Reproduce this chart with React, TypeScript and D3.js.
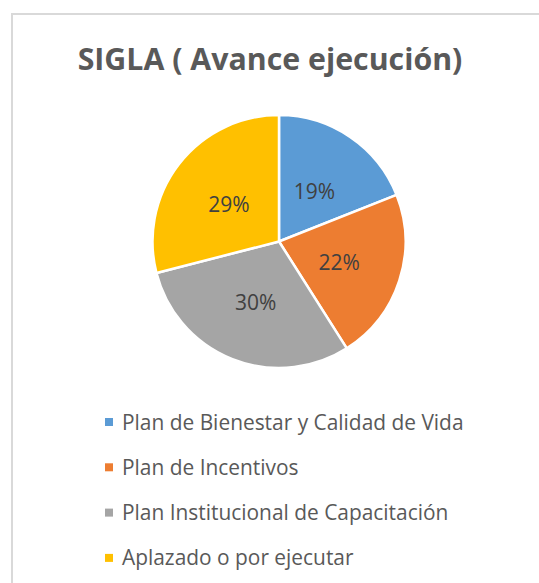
import React from "react";
import * as d3 from "d3";

const categories = [
  "Plan de Bienestar y Calidad de Vida",
  "Plan de Incentivos",
  "Plan Institucional de Capacitación",
  "Aplazado o por ejecutar",
];
const values = [19, 22, 30, 29];
const colors = ["#5b9bd5", "#ed7d31", "#a5a5a5", "#ffc000"];
const title = "SIGLA ( Avance ejecución)";

const W = 539;
const H = 583;

export default function App() {
  const cx = 279;
  const cy = 241.5;
  const r = 126.5;
  const pie = d3.pie<number>().sort(null).value((d) => d)(values);
  const arc = d3.arc<d3.PieArcDatum<number>>().innerRadius(0).outerRadius(r);
  const labelArc = d3
    .arc<d3.PieArcDatum<number>>()
    .innerRadius(r * 0.5)
    .outerRadius(r * 0.5);
  const total = d3.sum(values);
  const font = "'Open Sans', 'Segoe UI', sans-serif";
  const legendY = d3.scaleLinear().domain([0, 1]).range([422, 467.3]);

  return (
    <svg
      width={W}
      height={H}
      style={{ position: "absolute", left: 0, top: 0, display: "block" }}
    >
      <rect x={0} y={0} width={W} height={H} fill="#fff" />
      <path
        d={`M12,${H} L12,14 L${W},14`}
        fill="none"
        stroke="#d9d9d9"
        strokeWidth={2}
      />
      <text
        x={270}
        y={70}
        textAnchor="middle"
        fontFamily={font}
        fontWeight={700}
        fontSize={30.3}
        fill="#595959"
      >
        {title}
      </text>
      <g transform={`translate(${cx},${cy})`}>
        {pie.map((p, i) => (
          <path
            key={i}
            d={arc(p) || ""}
            fill={colors[i]}
            stroke="#fff"
            strokeWidth={2.5}
            strokeLinejoin="round"
          />
        ))}
        {pie.map((p, i) => {
          const [x, y] = labelArc.centroid(p);
          return (
            <text
              key={i}
              x={x}
              y={y + 2}
              dy="0.35em"
              textAnchor="middle"
              fontFamily={font}
              fontSize={21}
              fill="#404040"
            >
              {`${Math.round((values[i] / total) * 100)}%`}
            </text>
          );
        })}
      </g>
      {categories.map((c, i) => (
        <g key={c} transform={`translate(0,${legendY(i)})`}>
          <rect x={105} y={-4} width={8} height={8} fill={colors[i]} />
          <text
            x={122}
            y={0}
            dy="0.36em"
            fontFamily={font}
            fontSize={20.9}
            fill="#595959"
          >
            {c}
          </text>
        </g>
      ))}
    </svg>
  );
}
